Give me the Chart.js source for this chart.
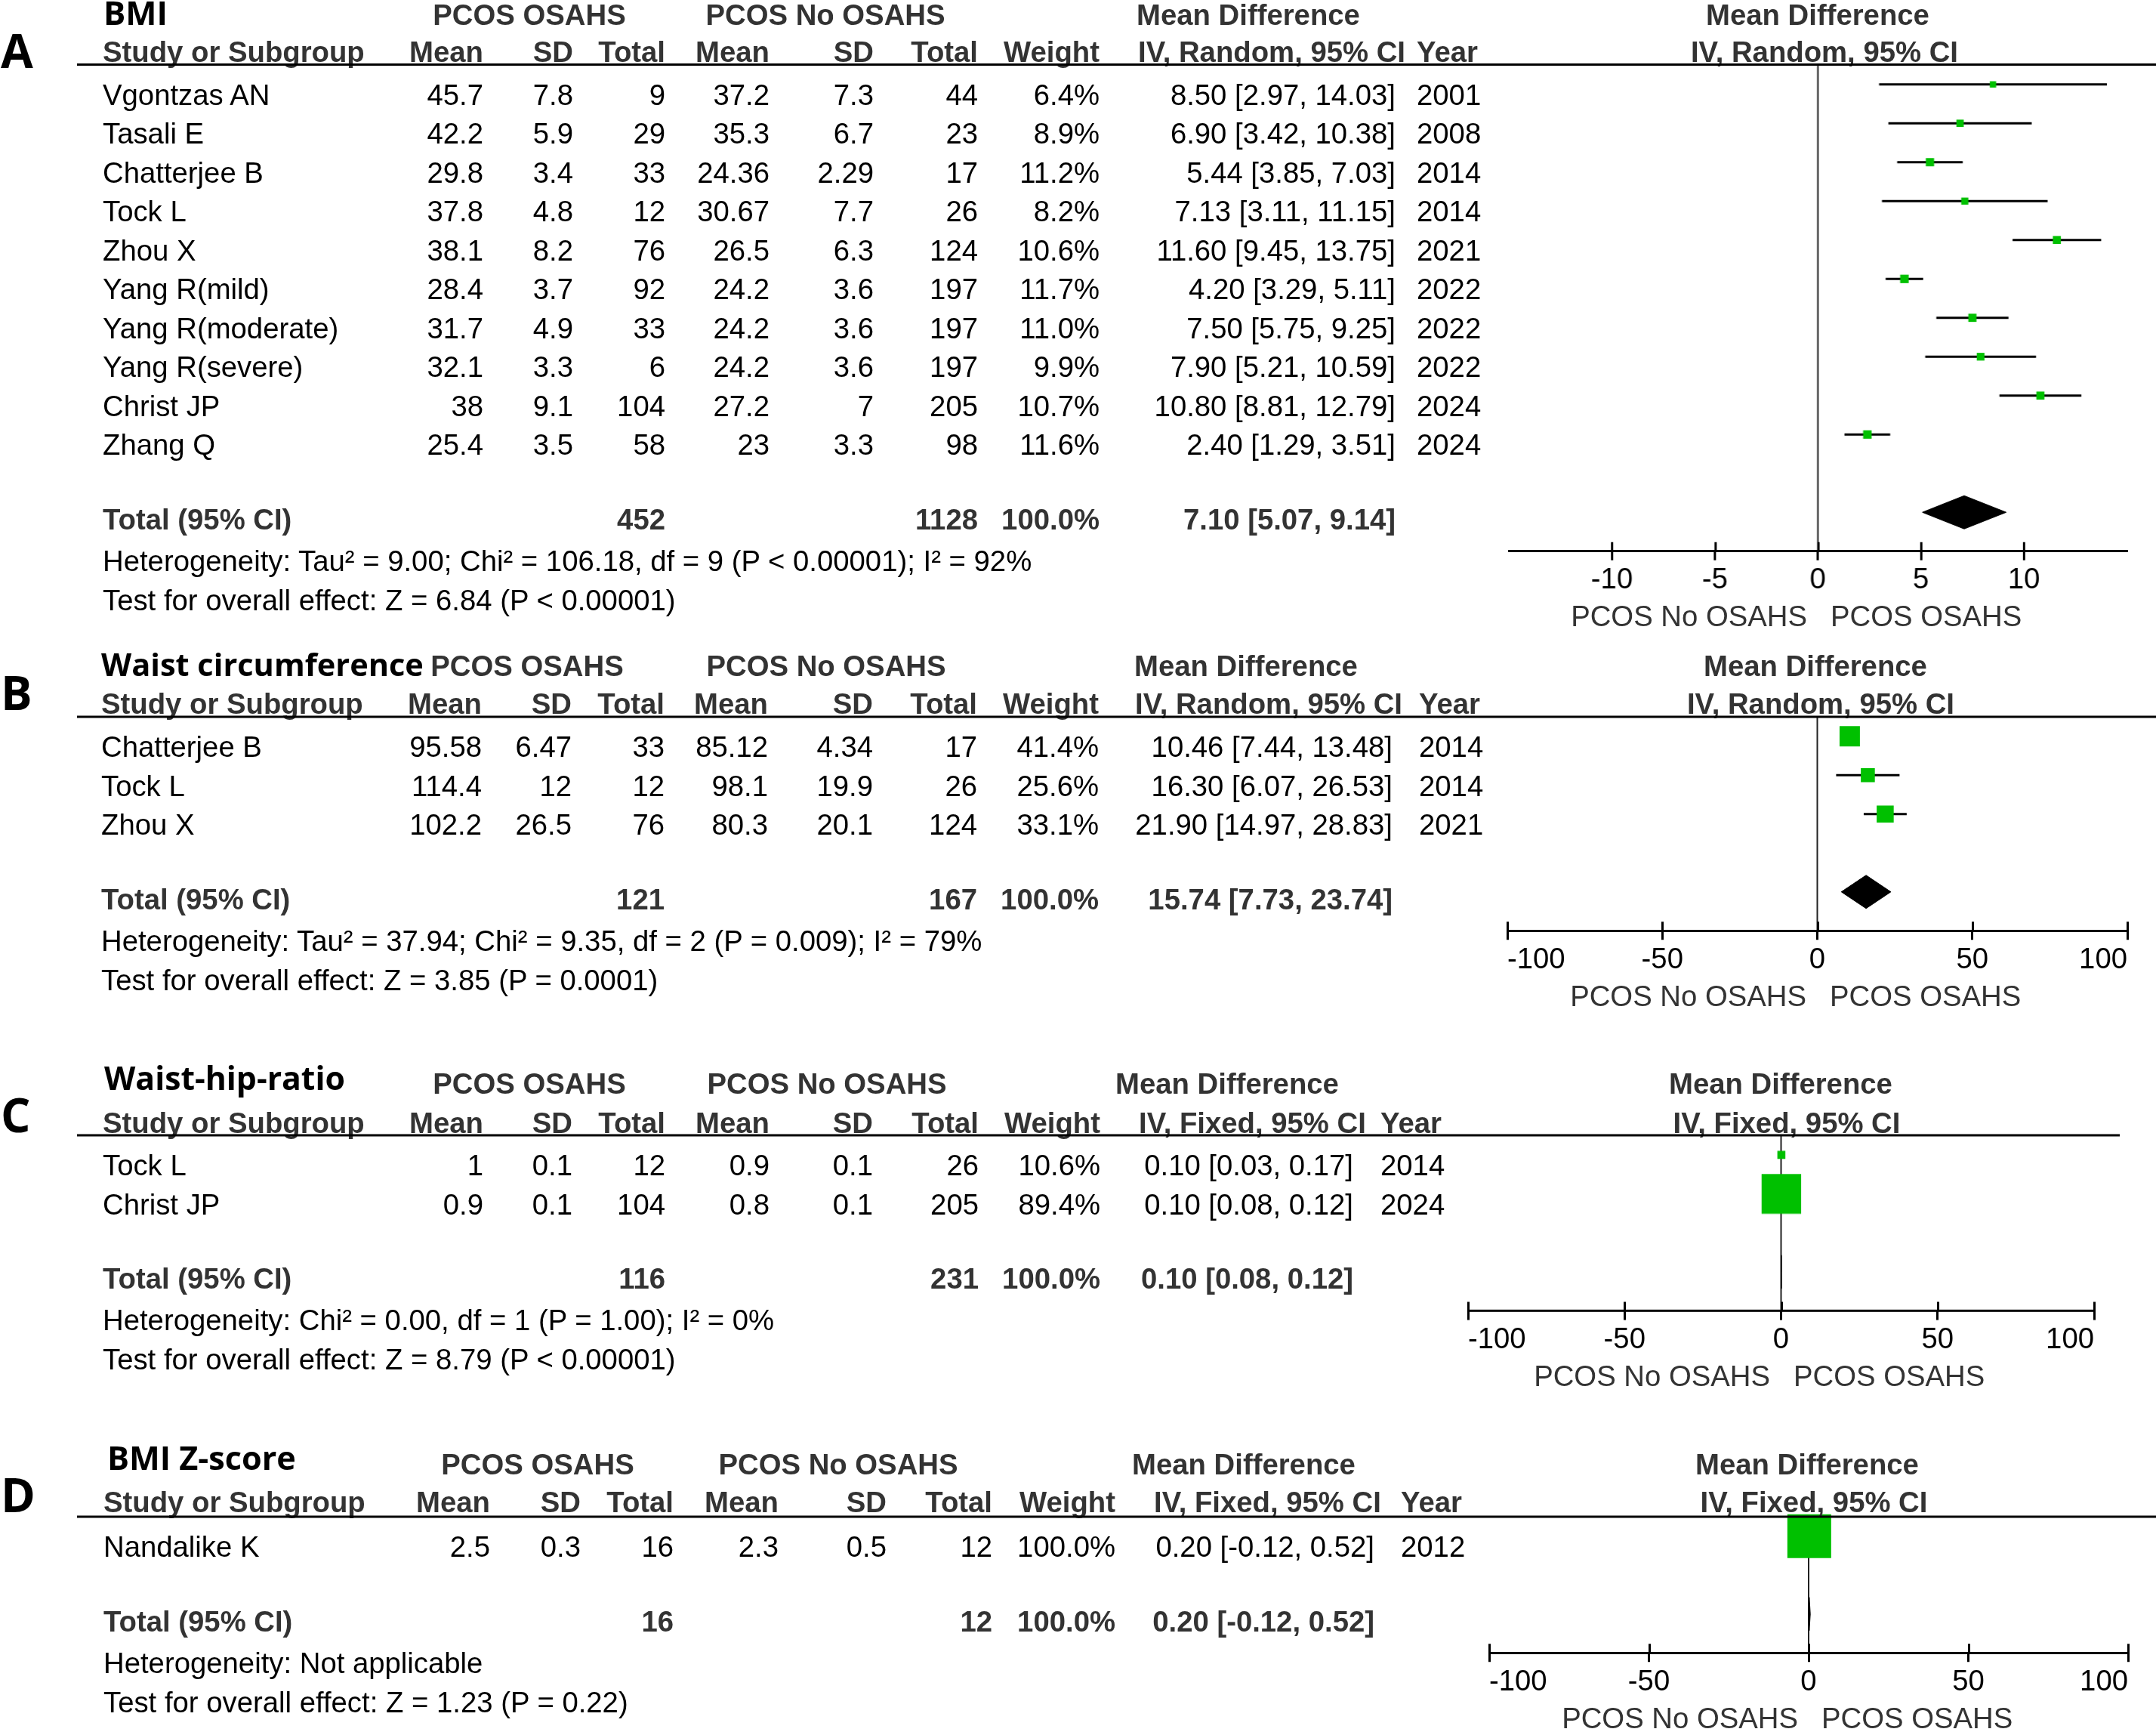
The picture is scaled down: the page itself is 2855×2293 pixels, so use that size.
<!DOCTYPE html>
<html><head><meta charset="utf-8">
<script src="https://cdn.jsdelivr.net/npm/chart.js@4.4.1/dist/chart.umd.min.js"></script>
<style>
html,body{margin:0;padding:0;background:#fff;}
body{width:2855px;height:2293px;position:relative;overflow:hidden;}
.wrap{position:absolute;}
#txt{position:absolute;left:0;top:0;z-index:2;pointer-events:none;}
</style></head><body>
<svg id="txt" width="2855" height="2293" xmlns="http://www.w3.org/2000/svg"></svg>
<script>
// ================= DATA =================
// Panel A: BMI
const A_TITLE = 'BMI';
const A_METHOD = 'IV, Random, 95% CI';
const A_STUDY = ['Vgontzas AN','Tasali E','Chatterjee B','Tock L','Zhou X','Yang R(mild)','Yang R(moderate)','Yang R(severe)','Christ JP','Zhang Q'];
const A_MEAN1 = [45.7,42.2,29.8,37.8,38.1,28.4,31.7,32.1,38,25.4];
const A_SD1   = [7.8,5.9,3.4,4.8,8.2,3.7,4.9,3.3,9.1,3.5];
const A_N1    = [9,29,33,12,76,92,33,6,104,58];
const A_MEAN2 = [37.2,35.3,24.36,30.67,26.5,24.2,24.2,24.2,27.2,23];
const A_SD2   = [7.3,6.7,2.29,7.7,6.3,3.6,3.6,3.6,7,3.3];
const A_N2    = [44,23,17,26,124,197,197,197,205,98];
const A_WEIGHT= [6.4,8.9,11.2,8.2,10.6,11.7,11.0,9.9,10.7,11.6];
const A_MD    = [8.50,6.90,5.44,7.13,11.60,4.20,7.50,7.90,10.80,2.40];
const A_LO    = [2.97,3.42,3.85,3.11,9.45,3.29,5.75,5.21,8.81,1.29];
const A_HI    = [14.03,10.38,7.03,11.15,13.75,5.11,9.25,10.59,12.79,3.51];
const A_YEAR  = [2001,2008,2014,2014,2021,2022,2022,2022,2024,2024];
const A_TOTAL = {n1:452, n2:1128, w:100.0, md:7.10, lo:5.07, hi:9.14};
const A_HET   = 'Heterogeneity: Tau\u00b2 = 9.00; Chi\u00b2 = 106.18, df = 9 (P < 0.00001); I\u00b2 = 92%';
const A_TEST  = 'Test for overall effect: Z = 6.84 (P < 0.00001)';
const A_RANGE = [-15, 15];
const A_TICKS = [-10,-5,0,5,10];

// Panel B: Waist circumference
const B_TITLE = 'Waist circumference';
const B_METHOD = 'IV, Random, 95% CI';
const B_STUDY = ['Chatterjee B','Tock L','Zhou X'];
const B_MEAN1 = [95.58,114.4,102.2];
const B_SD1   = [6.47,12,26.5];
const B_N1    = [33,12,76];
const B_MEAN2 = [85.12,98.1,80.3];
const B_SD2   = [4.34,19.9,20.1];
const B_N2    = [17,26,124];
const B_WEIGHT= [41.4,25.6,33.1];
const B_MD    = [10.46,16.30,21.90];
const B_LO    = [7.44,6.07,14.97];
const B_HI    = [13.48,26.53,28.83];
const B_YEAR  = [2014,2014,2021];
const B_TOTAL = {n1:121, n2:167, w:100.0, md:15.74, lo:7.73, hi:23.74};
const B_HET   = 'Heterogeneity: Tau\u00b2 = 37.94; Chi\u00b2 = 9.35, df = 2 (P = 0.009); I\u00b2 = 79%';
const B_TEST  = 'Test for overall effect: Z = 3.85 (P = 0.0001)';
const B_RANGE = [-100, 100];
const B_TICKS = [-100,-50,0,50,100];

// Panel C: Waist-hip-ratio
const C_TITLE = 'Waist-hip-ratio';
const C_METHOD = 'IV, Fixed, 95% CI';
const C_STUDY = ['Tock L','Christ JP'];
const C_MEAN1 = [1,0.9];
const C_SD1   = [0.1,0.1];
const C_N1    = [12,104];
const C_MEAN2 = [0.9,0.8];
const C_SD2   = [0.1,0.1];
const C_N2    = [26,205];
const C_WEIGHT= [10.6,89.4];
const C_MD    = [0.10,0.10];
const C_LO    = [0.03,0.08];
const C_HI    = [0.17,0.12];
const C_YEAR  = [2014,2024];
const C_TOTAL = {n1:116, n2:231, w:100.0, md:0.10, lo:0.08, hi:0.12};
const C_HET   = 'Heterogeneity: Chi\u00b2 = 0.00, df = 1 (P = 1.00); I\u00b2 = 0%';
const C_TEST  = 'Test for overall effect: Z = 8.79 (P < 0.00001)';
const C_RANGE = [-100, 100];
const C_TICKS = [-100,-50,0,50,100];

// Panel D: BMI Z-score
const D_TITLE = 'BMI Z-score';
const D_METHOD = 'IV, Fixed, 95% CI';
const D_STUDY = ['Nandalike K'];
const D_MEAN1 = [2.5];
const D_SD1   = [0.3];
const D_N1    = [16];
const D_MEAN2 = [2.3];
const D_SD2   = [0.5];
const D_N2    = [12];
const D_WEIGHT= [100.0];
const D_MD    = [0.20];
const D_LO    = [-0.12];
const D_HI    = [0.52];
const D_YEAR  = [2012];
const D_TOTAL = {n1:16, n2:12, w:100.0, md:0.20, lo:-0.12, hi:0.52};
const D_HET   = 'Heterogeneity: Not applicable';
const D_TEST  = 'Test for overall effect: Z = 1.23 (P = 0.22)';
const D_RANGE = [-100, 100];
const D_TICKS = [-100,-50,0,50,100];

const GROUP_LEFT = 'PCOS No OSAHS';
const GROUP_RIGHT = 'PCOS OSAHS';

// ================= LAYOUT (positions / styles) =================
const FS = 38.3, ROW = 51.5;
const TF = "'Liberation Sans', Arial, sans-serif";
const HF = "'Open Sans', 'Noto Sans', sans-serif";
const GRAY = '#333333', GREEN = '#00c000';
const LAY = {
  A:{line:85.5, letterCY:68, titleY:33, h1Y:33, h2Y:82, titleX:137, titleW:85, tickAlign:'center',
     cols:[136,640,759,881,1019,1157,1295,1456,1848,1876], h1:[701,1093,1653], ivLeft:1507,
     zero:2407, ppu:27.25, rightMD:2407, rightIV:2416, lineEnd:2855},
  B:{line:949, letterCY:918, titleY:895, h1Y:895, h2Y:945, titleX:134, titleW:427, tickAlign:'inner',
     cols:[134,638,757,880,1017,1156,1294,1455,1844,1879], h1:[698,1094,1650], ivLeft:1503,
     zero:2406, ppu:4.105, rightMD:2404, rightIV:2411, lineEnd:2855},
  C:{line:1503, letterCY:1477, titleY:1443, h1Y:1448, h2Y:1500, titleX:138, titleW:319, tickAlign:'inner',
     cols:[136,640,758,881,1019,1156,1296,1457,1792,1828], h1:[701,1095,1625], ivLeft:1508,
     zero:2358, ppu:4.145, rightMD:2358, rightIV:2366, lineEnd:2807},
  D:{line:2008, letterCY:1980, titleY:1946, h1Y:1952, h2Y:2002, titleX:142, titleW:250, tickAlign:'inner',
     cols:[137,649,769,892,1031,1174,1314,1477,1820,1855], h1:[712,1110,1647], ivLeft:1528,
     zero:2395, ppu:4.23, rightMD:2393, rightIV:2402, lineEnd:2855}
};

const PANELS = [
  {key:'A', title:A_TITLE, method:A_METHOD, study:A_STUDY, m1:A_MEAN1, s1:A_SD1, n1:A_N1, m2:A_MEAN2, s2:A_SD2, n2:A_N2, w:A_WEIGHT, md:A_MD, lo:A_LO, hi:A_HI, year:A_YEAR, total:A_TOTAL, het:A_HET, test:A_TEST, range:A_RANGE, ticks:A_TICKS},
  {key:'B', title:B_TITLE, method:B_METHOD, study:B_STUDY, m1:B_MEAN1, s1:B_SD1, n1:B_N1, m2:B_MEAN2, s2:B_SD2, n2:B_N2, w:B_WEIGHT, md:B_MD, lo:B_LO, hi:B_HI, year:B_YEAR, total:B_TOTAL, het:B_HET, test:B_TEST, range:B_RANGE, ticks:B_TICKS},
  {key:'C', title:C_TITLE, method:C_METHOD, study:C_STUDY, m1:C_MEAN1, s1:C_SD1, n1:C_N1, m2:C_MEAN2, s2:C_SD2, n2:C_N2, w:C_WEIGHT, md:C_MD, lo:C_LO, hi:C_HI, year:C_YEAR, total:C_TOTAL, het:C_HET, test:C_TEST, range:C_RANGE, ticks:C_TICKS},
  {key:'D', title:D_TITLE, method:D_METHOD, study:D_STUDY, m1:D_MEAN1, s1:D_SD1, n1:D_N1, m2:D_MEAN2, s2:D_SD2, n2:D_N2, w:D_WEIGHT, md:D_MD, lo:D_LO, hi:D_HI, year:D_YEAR, total:D_TOTAL, het:D_HET, test:D_TEST, range:D_RANGE, ticks:D_TICKS}
];

// ================= HELPERS =================
const SVGNS = 'http://www.w3.org/2000/svg';
const svg = document.getElementById('txt');
function T(x, y, s, o = {}) {
  const e = document.createElementNS(SVGNS, 'text');
  e.setAttribute('x', x); e.setAttribute('y', y);
  e.setAttribute('font-family', o.family || TF);
  e.setAttribute('font-size', o.size || FS);
  if (o.bold) e.setAttribute('font-weight', '700');
  e.setAttribute('fill', o.fill || '#000');
  e.setAttribute('text-anchor', o.anchor || 'start');
  e.textContent = s;
  svg.appendChild(e);
  return e;
}
function HL(x1, x2, y, w) {
  const e = document.createElementNS(SVGNS, 'line');
  e.setAttribute('x1', x1); e.setAttribute('x2', x2);
  e.setAttribute('y1', y); e.setAttribute('y2', y);
  e.setAttribute('stroke', '#000'); e.setAttribute('stroke-width', w);
  svg.appendChild(e);
}
const mctx = document.createElement('canvas').getContext('2d');
function fitSize(text, family, target) {
  mctx.font = '700 100px ' + family;
  return 100 * target / mctx.measureText(text).width;
}
const fmtCI = (md, lo, hi) => md.toFixed(2) + ' [' + lo.toFixed(2) + ', ' + hi.toFixed(2) + ']';

const upTicks = {
  id: 'upTicks',
  afterDraw(chart) {
    const sx = chart.scales.x, ctx = chart.ctx, yb = chart.chartArea.bottom;
    ctx.save(); ctx.strokeStyle = '#000'; ctx.lineWidth = 3;
    sx.ticks.forEach(t => {
      const px = Math.round(sx.getPixelForValue(t.value)) + 0.5;
      ctx.beginPath(); ctx.moveTo(px, yb - 12); ctx.lineTo(px, yb); ctx.stroke();
    });
    ctx.restore();
  }
};

// ================= BUILD =================
PANELS.forEach(P => {
  const Ly = LAY[P.key];
  const c = Ly.cols;
  const n = P.study.length;
  // letter & title
  T(1, Ly.letterCY + 22, P.key, {family: HF, bold: true, size: 62});
  T(Ly.titleX, Ly.titleY, P.title, {family: HF, bold: true, size: fitSize(P.title, HF, Ly.titleW)});
  // header rows
  const hb = {bold: true, fill: GRAY, anchor: 'middle'};
  T(Ly.h1[0], Ly.h1Y, 'PCOS OSAHS', hb);
  T(Ly.h1[1], Ly.h1Y, 'PCOS No OSAHS', hb);
  T(Ly.h1[2], Ly.h1Y, 'Mean Difference', hb);
  T(Ly.rightMD, Ly.h1Y, 'Mean Difference', hb);
  const he = {bold: true, fill: GRAY, anchor: 'end'};
  T(c[0], Ly.h2Y, 'Study or Subgroup', {bold: true, fill: GRAY});
  T(c[1], Ly.h2Y, 'Mean', he); T(c[2], Ly.h2Y, 'SD', he); T(c[3], Ly.h2Y, 'Total', he);
  T(c[4], Ly.h2Y, 'Mean', he); T(c[5], Ly.h2Y, 'SD', he); T(c[6], Ly.h2Y, 'Total', he);
  T(c[7], Ly.h2Y, 'Weight', he);
  T(Ly.ivLeft, Ly.h2Y, P.method, {bold: true, fill: GRAY});
  T(c[9], Ly.h2Y, 'Year', {bold: true, fill: GRAY});
  T(Ly.rightIV, Ly.h2Y, P.method, hb);
  HL(102, Ly.lineEnd, Ly.line, 3);
  // study rows
  const de = {anchor: 'end'};
  P.study.forEach((s, i) => {
    const y = Ly.line + (i + 0.5) * ROW + 27.5;
    T(c[0], y, s);
    T(c[1], y, String(P.m1[i]), de); T(c[2], y, String(P.s1[i]), de); T(c[3], y, String(P.n1[i]), de);
    T(c[4], y, String(P.m2[i]), de); T(c[5], y, String(P.s2[i]), de); T(c[6], y, String(P.n2[i]), de);
    T(c[7], y, P.w[i].toFixed(1) + '%', de);
    T(c[8], y, fmtCI(P.md[i], P.lo[i], P.hi[i]), de);
    T(c[9], y, String(P.year[i]));
  });
  const ty = Ly.line + (n + 1.5) * ROW + 23;
  const tb = {bold: true, fill: GRAY, anchor: 'end'};
  T(c[0], ty, 'Total (95% CI)', {bold: true, fill: GRAY});
  T(c[3], ty, String(P.total.n1), tb);
  T(c[6], ty, String(P.total.n2), tb);
  T(c[7], ty, P.total.w.toFixed(1) + '%', tb);
  T(c[8], ty, fmtCI(P.total.md, P.total.lo, P.total.hi), tb);
  T(c[0], ty + 55, P.het);
  T(c[0], ty + 107, P.test);

  // ---- forest chart ----
  const [xmin, xmax] = P.range;
  const yMax = n + 2.5;
  const areaW = (xmax - xmin) * Ly.ppu;
  const areaH = yMax * ROW;
  const areaL = Ly.zero + xmin * Ly.ppu;
  const areaT = Ly.line;
  const pad = {left: 70, right: 70, top: 40, bottom: 10};
  const wrap = document.createElement('div');
  wrap.className = 'wrap';
  wrap.style.width = (areaW + pad.left + pad.right) + 'px';
  wrap.style.height = (areaH + pad.top + pad.bottom + 66) + 'px';
  wrap.style.left = (areaL - pad.left) + 'px';
  wrap.style.top = (areaT - pad.top) + 'px';
  const cv = document.createElement('canvas');
  wrap.appendChild(cv);
  document.body.appendChild(wrap);

  const rowY = P.study.map((_, i) => i + 0.5);
  const totY = n + 1.5;
  const dh = 22 / ROW;
  const datasets = [];
  datasets.push({data: [{x: 0, y: 0}, {x: 0, y: yMax}], showLine: true, borderColor: '#222', borderWidth: 2, pointRadius: 0, order: 3, clip: false});
  P.lo.forEach((lo, i) => datasets.push({data: [{x: lo, y: rowY[i]}, {x: P.hi[i], y: rowY[i]}], showLine: true, borderColor: '#000', borderWidth: 3, pointRadius: 0, order: 2}));
  datasets.push({data: P.md.map((v, i) => ({x: v, y: rowY[i]})), showLine: false, pointStyle: 'rect',
    pointRadius: P.w.map(w => (5 + 0.53 * w) / Math.SQRT2), backgroundColor: GREEN, pointBackgroundColor: GREEN,
    pointBorderWidth: 0, borderWidth: 0, order: 1, clip: false});
  const t = P.total;
  datasets.push({data: [{x: t.lo, y: totY}, {x: t.md, y: totY - dh}, {x: t.hi, y: totY}, {x: t.md, y: totY + dh}, {x: t.lo, y: totY}],
    showLine: true, fill: 'shape', backgroundColor: '#000', borderColor: '#000', borderWidth: 1, pointRadius: 0, order: 0, clip: false});

  const chart = new Chart(cv, {
    type: 'scatter',
    data: {datasets},
    options: {
      responsive: true, maintainAspectRatio: false, animation: false, events: [],
      layout: {padding: pad},
      plugins: {legend: {display: false}, tooltip: {enabled: false}},
      scales: {
        x: {type: 'linear', min: xmin, max: xmax, position: 'bottom',
            afterBuildTicks: s => { s.ticks = P.ticks.map(v => ({value: v})); },
            grid: {drawOnChartArea: false, drawTicks: true, tickLength: 12, tickWidth: 3, tickColor: '#000', color: '#000', lineWidth: 3},
            border: {display: true, color: '#000', width: 3},
            ticks: {font: {family: 'Liberation Sans', size: FS}, color: '#000', padding: 4, maxRotation: 0, autoSkip: false,
                    align: Ly.tickAlign, callback: v => String(v)}},
        y: {type: 'linear', min: 0, max: yMax, reverse: true, display: false}
      }
    },
    plugins: [upTicks]
  });
  for (let k = 0; k < 3; k++) {
    const ca = chart.chartArea;
    const w0 = parseFloat(wrap.style.width), h0 = parseFloat(wrap.style.height);
    wrap.style.width = (w0 + areaW - (ca.right - ca.left)) + 'px';
    wrap.style.height = (h0 + areaH - (ca.bottom - ca.top)) + 'px';
    chart.resize();
  }
  const ca = chart.chartArea;
  const wl = areaL - ca.left, wt = areaT - ca.top;
  wrap.style.left = wl + 'px';
  wrap.style.top = wt + 'px';
  const zeroPx = wl + chart.scales.x.getPixelForValue(0);
  const axisY = wt + ca.bottom;
  T(zeroPx - 14, axisY + 100, GROUP_LEFT, {fill: GRAY, anchor: 'end'});
  T(zeroPx + 17, axisY + 100, GROUP_RIGHT, {fill: GRAY});
});
</script>
</body></html>
